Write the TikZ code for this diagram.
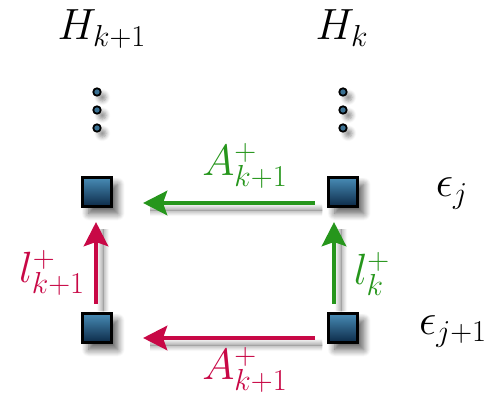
\documentclass[tikz,border=0pt]{standalone}
\usetikzlibrary{arrows.meta, positioning, shadows.blur}

\definecolor{vgreen}{RGB}{38,150,28}
\definecolor{vred}{RGB}{200,8,70}
\definecolor{boxtop}{RGB}{72,140,182}
\definecolor{boxbot}{RGB}{12,42,72}

\begin{document}
\begin{tikzpicture}[
    x=0.02cm, y=-0.02cm,
    cell/.style={rectangle, draw=black, line width=1.7pt, minimum size=0.58cm, inner sep=0pt,
        top color=boxtop, bottom color=boxbot,
        blur shadow={shadow xshift=3.5pt, shadow yshift=-4pt, shadow opacity=65, shadow blur radius=4pt, shadow blur steps=10}},
    dot/.style={circle, draw=black, line width=1pt, minimum size=0.15cm, inner sep=0pt,
        fill=boxtop!80!black,
        blur shadow={shadow xshift=3pt, shadow yshift=-3pt, shadow opacity=45, shadow blur radius=2.5pt, shadow blur steps=6}},
    flow/.style={-{Stealth[length=0.48cm, width=0.48cm, inset=0.08cm]}, line width=2.8pt,
        blur shadow={shadow xshift=4pt, shadow yshift=-4pt, shadow opacity=60, shadow blur radius=3.5pt, shadow blur steps=10}},
    lbl/.style={font=\fontsize{25}{30}\selectfont, inner sep=0pt, anchor=base}
]
\useasboundingbox (0,0) rectangle (497,401);
% Columns
\node[lbl] (hk1) at (102,40) {$H_{k+1}$};
\node[lbl] (hk) at (342,40) {$H_k$};
% Dots
\foreach \n/\y in {1/92, 2/110, 3/128} {
  \node[dot] (ld\n) at (97,\y) {};
  \node[dot] (rd\n) at (343,\y) {};
}
% Cells
\node[cell] (lt) at (97,192) {};
\node[cell] (rt) at (343,192) {};
\node[cell] (lb) at (97,328) {};
\node[cell] (rb) at (343,328) {};
% Rows
\node[lbl] (ej) at (452,197) {$\epsilon_j$};
\node[lbl] (ej1) at (453,335) {$\epsilon_{j+1}$};
% Arrow ends
\coordinate (ta) at (315,203);
\coordinate (tb) at (143,203);
\coordinate (ba) at (315,338);
\coordinate (bb) at (143,338);
\coordinate (la) at (96,304);
\coordinate (lc) at (96,222);
\coordinate (ra) at (334,304);
\coordinate (rc) at (334,222);
% Arrows
\draw[flow, vgreen] (ta) -- (tb);
\draw[flow, vred] (ba) -- (bb);
\draw[flow, vred] (la) -- (lc);
\draw[flow, vgreen] (ra) -- (rc);
% Arrow labels
\node[lbl, text=vgreen] (atop) at (245,176) {$A^+_{k+1}$};
\node[lbl, text=vred] (abot) at (245,380) {$A^+_{k+1}$};
\node[lbl, text=vred] (lleft) at (52,283) {$l^+_{k+1}$};
\node[lbl, text=vgreen] (lright) at (372,285) {$l^+_k$};
\end{tikzpicture}
\end{document}
